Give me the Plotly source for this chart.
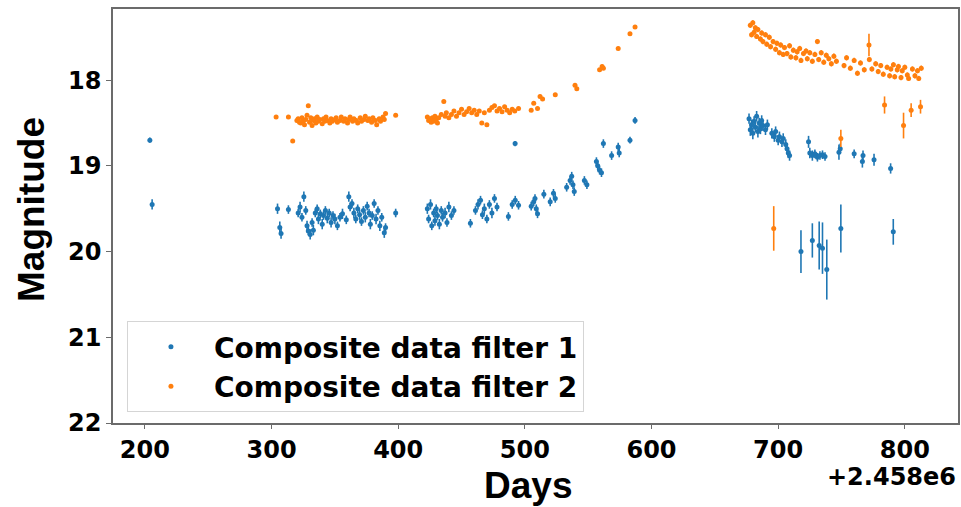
import plotly.graph_objects as go

# Light curve of a transient in two composite filters.
# Days are counted from JD 2458000 (shown as the axis offset "+2.458e6").
JD_OFFSET_LABEL = "+2.458e6"

# ---- filter 1 (blue) ----
f1_days = [
    203.9, 205.7,
    304.7, 306.5, 307.5, 313.3, 321.0, 322.5, 324.0, 325.5, 327.0, 328.0, 329.0, 330.5,
    332.0, 333.0, 334.5, 336.0, 337.0, 338.5, 340.0, 341.0, 342.5, 344.0, 345.5, 347.0,
    348.5, 350.0, 352.0, 354.0, 356.0, 359.0, 361.0, 362.0, 363.5, 365.0, 366.5, 368.0,
    369.5, 371.0, 372.5, 374.0, 375.5, 377.0, 378.0, 379.5, 381.0, 382.5, 384.0, 385.5,
    387.0, 389.0, 390.0, 398.0,
    423.0, 424.0, 425.5, 426.5, 428.0, 429.0, 430.0, 431.0, 432.5, 434.0, 435.0, 437.0,
    438.5, 440.0, 442.0, 444.0, 457.0, 461.0, 463.0, 465.0, 466.5, 468.0, 470.0, 472.0,
    474.0, 476.0, 478.0, 487.0, 490.0, 492.3, 492.4, 495.0,
    505.0, 507.0, 508.0, 509.0, 510.0, 515.0, 520.0, 522.6, 524.0, 533.0, 535.7, 537.0,
    538.0, 539.0, 547.0, 549.0, 556.5, 557.5, 559.0, 560.5, 562.0, 568.5, 573.7, 574.5,
    583.0, 587.0,
    677.0, 678.0, 679.0, 680.0, 681.0, 682.0, 683.0, 684.0, 685.0, 686.0, 687.0, 688.0,
    690.0, 691.5, 695.0, 697.0, 698.0, 700.0, 701.0, 703.0, 704.0, 706.0, 707.0, 708.0,
    709.0, 724.0, 725.0, 727.0, 729.0, 731.0, 733.0, 735.0, 737.0, 748.0, 749.0, 760.0,
    766.5, 767.0, 775.7, 788.8,
    718.0, 727.0, 732.4, 735.0, 738.4, 749.5, 790.9,
]
f1_mag = [
    18.70, 19.45,
    19.50, 19.72, 19.79, 19.51, 19.55, 19.48, 19.60, 19.36, 19.52, 19.70, 19.76, 19.80,
    19.66, 19.75, 19.55, 19.50, 19.62, 19.56, 19.68, 19.58, 19.52, 19.61, 19.55, 19.66,
    19.58, 19.62, 19.70, 19.60, 19.56, 19.63, 19.36, 19.48, 19.44, 19.55, 19.62, 19.50,
    19.57, 19.65, 19.52, 19.60, 19.47, 19.55, 19.68, 19.58, 19.44, 19.62, 19.52, 19.70,
    19.60, 19.78, 19.72, 19.55,
    19.50, 19.62, 19.45, 19.70, 19.55, 19.64, 19.50, 19.58, 19.68, 19.52, 19.60, 19.55,
    19.66, 19.48, 19.58, 19.52, 19.67, 19.52, 19.45, 19.40, 19.57, 19.50, 19.62, 19.45,
    19.55, 19.38, 19.48, 19.59, 19.45, 18.74, 19.40, 19.46,
    19.47, 19.42, 19.38, 19.50, 19.56, 19.33, 19.42, 19.32, 19.38, 19.25, 19.17, 19.12,
    19.22, 19.30, 19.17, 19.22, 18.95, 19.00, 19.05, 19.08, 18.74, 18.88, 18.78, 18.85,
    18.70, 18.47,
    18.45, 18.58, 18.52, 18.62, 18.48, 18.55, 18.42, 18.60, 18.50, 18.57, 18.47, 18.53,
    18.58, 18.52, 18.62, 18.66, 18.60, 18.70, 18.66, 18.72, 18.68, 18.75, 18.80, 18.85,
    18.88, 18.72, 18.85, 18.88, 18.86, 18.90, 18.88, 18.87, 18.89, 18.84, 18.80, 18.86,
    18.95, 18.88, 18.93, 19.03,
    20.00, 19.87, 19.93, 19.96, 20.21, 19.73, 19.77,
]
f1_err = [
    0.03, 0.06,
    0.06, 0.07, 0.06, 0.05, 0.05, 0.06, 0.05, 0.06, 0.05, 0.06, 0.05, 0.06,
    0.05, 0.06, 0.05, 0.05, 0.06, 0.05, 0.06, 0.05, 0.05, 0.06, 0.05, 0.06,
    0.05, 0.06, 0.05, 0.05, 0.06, 0.05, 0.06, 0.05, 0.05, 0.06, 0.05, 0.05,
    0.06, 0.05, 0.05, 0.06, 0.05, 0.05, 0.06, 0.05, 0.05, 0.06, 0.05, 0.06,
    0.05, 0.06, 0.05, 0.05,
    0.06, 0.05, 0.06, 0.05, 0.05, 0.06, 0.05, 0.05, 0.06, 0.05, 0.05, 0.06,
    0.05, 0.06, 0.05, 0.05, 0.05, 0.05, 0.06, 0.05, 0.05, 0.06, 0.05, 0.05,
    0.06, 0.05, 0.05, 0.05, 0.05, 0.03, 0.05, 0.05,
    0.05, 0.05, 0.05, 0.05, 0.05, 0.05, 0.05, 0.05, 0.05, 0.05, 0.05, 0.05,
    0.05, 0.05, 0.05, 0.05, 0.05, 0.05, 0.05, 0.05, 0.05, 0.05, 0.05, 0.05,
    0.04, 0.04,
    0.06, 0.07, 0.06, 0.07, 0.06, 0.06, 0.06, 0.07, 0.06, 0.06, 0.06, 0.06,
    0.06, 0.06, 0.06, 0.06, 0.06, 0.06, 0.06, 0.06, 0.06, 0.06, 0.06, 0.06,
    0.06, 0.07, 0.06, 0.06, 0.05, 0.05, 0.05, 0.05, 0.05, 0.09, 0.06, 0.05,
    0.07, 0.06, 0.07, 0.06,
    0.25, 0.20, 0.28, 0.30, 0.35, 0.28, 0.15,
]

# ---- filter 2 (orange) ----
f2_days = [
    303.6, 313.3, 316.7, 320.0, 321.0, 322.0, 323.0, 324.0, 325.0, 326.0, 327.0, 328.0,
    329.0, 330.0, 331.0, 332.0, 333.0, 334.0, 335.0, 336.0, 337.0, 338.0, 340.0, 341.0,
    342.0, 343.0, 344.0, 346.0, 347.0, 348.0, 350.0, 351.0, 352.0, 354.0, 355.0, 357.0,
    358.0, 360.0, 361.0, 362.0, 364.0, 365.0, 367.0, 368.0, 370.0, 371.0, 373.0, 374.0,
    376.0, 377.0, 379.0, 380.0, 382.0, 383.0, 385.0, 386.0, 388.0, 389.0, 390.0, 398.0,
    423.0, 424.0, 425.0, 426.0, 427.0, 428.0, 429.0, 430.0, 431.0, 432.0, 434.0, 436.0,
    437.0, 438.0, 440.0, 442.0, 444.0, 446.0, 448.0, 450.0, 452.0, 454.0, 456.0, 458.0,
    460.0, 462.0, 464.0, 466.0, 468.0, 470.0, 472.0, 474.0, 476.0, 478.0, 480.0, 482.0,
    484.0, 486.0, 488.0, 490.0, 492.0, 495.0,
    505.0, 507.0, 510.0, 512.0, 514.0, 524.0, 539.6, 541.0, 559.0, 561.0, 562.0, 573.7,
    583.0, 587.0,
    678.0, 679.0, 680.0, 681.0, 682.0, 683.0, 684.0, 686.0, 687.0, 688.0, 690.0, 691.0,
    693.0, 694.0, 696.0, 698.0, 699.0, 701.0, 702.0, 704.0, 705.0, 707.0, 709.0, 710.0,
    712.0, 714.0, 715.0, 717.0, 718.0, 720.0, 722.0, 723.0, 725.0, 727.0, 729.0, 731.0,
    732.0, 734.0, 736.0, 738.0, 740.0, 742.0, 744.0, 746.0, 749.5, 752.0, 754.0, 757.0,
    760.0, 762.6, 765.0, 768.0, 771.7, 772.0, 774.0, 777.0, 779.0, 781.0, 783.0, 784.0,
    786.0, 788.0, 789.0, 791.0, 792.0, 794.0, 795.0, 797.0, 798.0, 799.0, 800.0, 802.0,
    803.0, 805.0, 806.0, 808.0, 810.0, 811.0, 812.4, 813.0,
    696.5,
]
f2_mag = [
    18.43, 18.43, 18.71, 18.47, 18.45, 18.49, 18.50, 18.44, 18.48, 18.52, 18.46, 18.41,
    18.30, 18.49, 18.44, 18.53, 18.47, 18.45, 18.50, 18.43, 18.48, 18.46, 18.51, 18.45,
    18.48, 18.43, 18.47, 18.50, 18.45, 18.48, 18.46, 18.44, 18.49, 18.47, 18.43, 18.48,
    18.45, 18.50, 18.46, 18.43, 18.48, 18.45, 18.47, 18.50, 18.44, 18.48, 18.46, 18.42,
    18.47, 18.45, 18.49, 18.44, 18.47, 18.52, 18.45, 18.48, 18.43, 18.46, 18.39, 18.41,
    18.43, 18.47, 18.45, 18.49, 18.44, 18.48, 18.42, 18.46, 18.50, 18.44, 18.40, 18.25,
    18.42, 18.38, 18.44, 18.40, 18.36, 18.42, 18.38, 18.34, 18.40, 18.37, 18.33, 18.38,
    18.35, 18.40, 18.36, 18.50, 18.38, 18.52, 18.35, 18.32, 18.30, 18.36, 18.33, 18.37,
    18.31, 18.35, 18.38, 18.34, 18.36, 18.33,
    18.35, 18.27, 18.33, 18.19, 18.22, 18.17, 18.06, 18.10, 17.88, 17.84, 17.86, 17.63,
    17.46, 17.38,
    17.36, 17.47, 17.33, 17.44, 17.39, 17.49, 17.41, 17.52, 17.45, 17.55, 17.47, 17.58,
    17.50, 17.61, 17.55, 17.64, 17.57, 17.68, 17.59, 17.70, 17.62, 17.69, 17.60, 17.73,
    17.65, 17.74, 17.67, 17.63, 17.77, 17.69, 17.66, 17.75, 17.68, 17.78, 17.70, 17.55,
    17.76, 17.68, 17.79, 17.71, 17.75, 17.81, 17.72, 17.78, 18.68, 17.83, 17.74, 17.86,
    17.77, 17.92, 17.80, 17.88, 17.59, 17.76, 17.87, 17.81, 17.90, 17.83, 17.93, 18.29,
    17.85, 17.95, 17.87, 17.82, 17.96, 17.88, 17.84, 17.97, 17.89, 18.53, 17.85, 17.94,
    17.98, 18.35, 17.87, 17.95, 17.89, 17.98, 18.31, 17.86,
    19.73,
]
f2_err = [
    0.02, 0.02, 0.02, 0.02, 0.02, 0.02, 0.02, 0.02, 0.02, 0.02, 0.02, 0.02,
    0.02, 0.02, 0.02, 0.02, 0.02, 0.02, 0.02, 0.02, 0.02, 0.02, 0.02, 0.02,
    0.02, 0.02, 0.02, 0.02, 0.02, 0.02, 0.02, 0.02, 0.02, 0.02, 0.02, 0.02,
    0.02, 0.02, 0.02, 0.02, 0.02, 0.02, 0.02, 0.02, 0.02, 0.02, 0.02, 0.02,
    0.02, 0.02, 0.02, 0.02, 0.02, 0.02, 0.02, 0.02, 0.02, 0.02, 0.02, 0.02,
    0.02, 0.02, 0.02, 0.02, 0.02, 0.02, 0.02, 0.02, 0.02, 0.02, 0.02, 0.02,
    0.02, 0.02, 0.02, 0.02, 0.02, 0.02, 0.02, 0.02, 0.02, 0.02, 0.02, 0.02,
    0.02, 0.02, 0.02, 0.02, 0.02, 0.02, 0.02, 0.02, 0.02, 0.02, 0.02, 0.02,
    0.02, 0.02, 0.02, 0.02, 0.02, 0.02,
    0.02, 0.02, 0.02, 0.02, 0.02, 0.02, 0.02, 0.02, 0.02, 0.02, 0.02, 0.02,
    0.02, 0.02,
    0.03, 0.03, 0.03, 0.03, 0.03, 0.03, 0.03, 0.03, 0.03, 0.03, 0.03, 0.03,
    0.03, 0.03, 0.03, 0.03, 0.03, 0.03, 0.03, 0.03, 0.03, 0.03, 0.03, 0.03,
    0.03, 0.03, 0.03, 0.03, 0.03, 0.03, 0.03, 0.03, 0.03, 0.03, 0.03, 0.03,
    0.03, 0.03, 0.03, 0.03, 0.03, 0.03, 0.03, 0.03, 0.10, 0.03, 0.03, 0.03,
    0.03, 0.03, 0.03, 0.03, 0.13, 0.03, 0.03, 0.03, 0.03, 0.03, 0.03, 0.10,
    0.03, 0.03, 0.03, 0.03, 0.03, 0.03, 0.03, 0.03, 0.03, 0.15, 0.03, 0.03,
    0.03, 0.08, 0.03, 0.03, 0.03, 0.03, 0.08, 0.03,
    0.26,
]

x_ticks = [200, 300, 400, 500, 600, 700, 800]
y_ticks = [18, 19, 20, 21, 22]

series_names = ["Composite data filter 1", "Composite data filter 2"]
series_colors = ["#1f77b4", "#ff7f0e"]

tick_font = dict(family="DejaVu Sans", size=24, color="black", weight="bold")
offset_font = dict(family="DejaVu Sans", size=24, color="black", weight="bold")
title_font = dict(family="Liberation Sans", size=37, color="black", weight="bold")
axis_grey = "#6b6b6b"

fig = go.Figure()
for name, color, xs, ys, es, grp in [
    (series_names[0], series_colors[0], f1_days, f1_mag, f1_err, "g1"),
    (series_names[1], series_colors[1], f2_days, f2_mag, f2_err, "g2"),
]:
    fig.add_trace(go.Scatter(
        x=xs, y=ys, mode="markers", name=name, legendgroup=grp,
        marker=dict(color=color, size=5, line=dict(width=0)),
        error_y=dict(type="data", array=es, visible=True, color=color,
                     thickness=1.6, width=0),
    ))

fig.update_layout(
    width=961, height=507,
    margin=dict(l=113, r=1, t=9, b=84),
    paper_bgcolor="white", plot_bgcolor="white",
    showlegend=True,
    legend=dict(
        x=0.0165, y=0.246, xanchor="left", yanchor="top",
        bgcolor="white", bordercolor="#d5d5d5", borderwidth=1,
        font=dict(family="DejaVu Sans", size=28, color="black", weight="bold"),
        itemwidth=76, tracegroupgap=0,
    ),
    xaxis=dict(
        range=[174.8, 842.0], tickvals=x_ticks, ticktext=[str(v) for v in x_ticks],
        showgrid=False, zeroline=False, showline=True, mirror=True,
        linecolor=axis_grey, linewidth=1.5, ticks="outside", ticklen=4,
        tickcolor=axis_grey, tickwidth=1.2, tickfont=tick_font,
    ),
    yaxis=dict(
        range=[22.0, 17.17], tickvals=y_ticks, ticktext=[str(v) for v in y_ticks],
        showgrid=False, zeroline=False, showline=True, mirror=True,
        linecolor=axis_grey, linewidth=1.5, ticks="outside", ticklen=5,
        tickcolor=axis_grey, tickwidth=1.2, tickfont=tick_font,
    ),
    annotations=[
        dict(text=JD_OFFSET_LABEL, xref="paper", yref="paper", x=1.0, y=-0.13,
             xanchor="right", yanchor="middle", showarrow=False, font=offset_font),
        dict(text="Days", xref="paper", yref="paper", x=0.491, y=-0.152,
             xanchor="center", yanchor="middle", showarrow=False, font=title_font),
        dict(text="Magnitude", xref="paper", yref="paper", x=-0.0956, y=0.515,
             xanchor="center", yanchor="middle", showarrow=False, textangle=-90,
             font=title_font),
    ],
)

fig.write_html("out.html")
